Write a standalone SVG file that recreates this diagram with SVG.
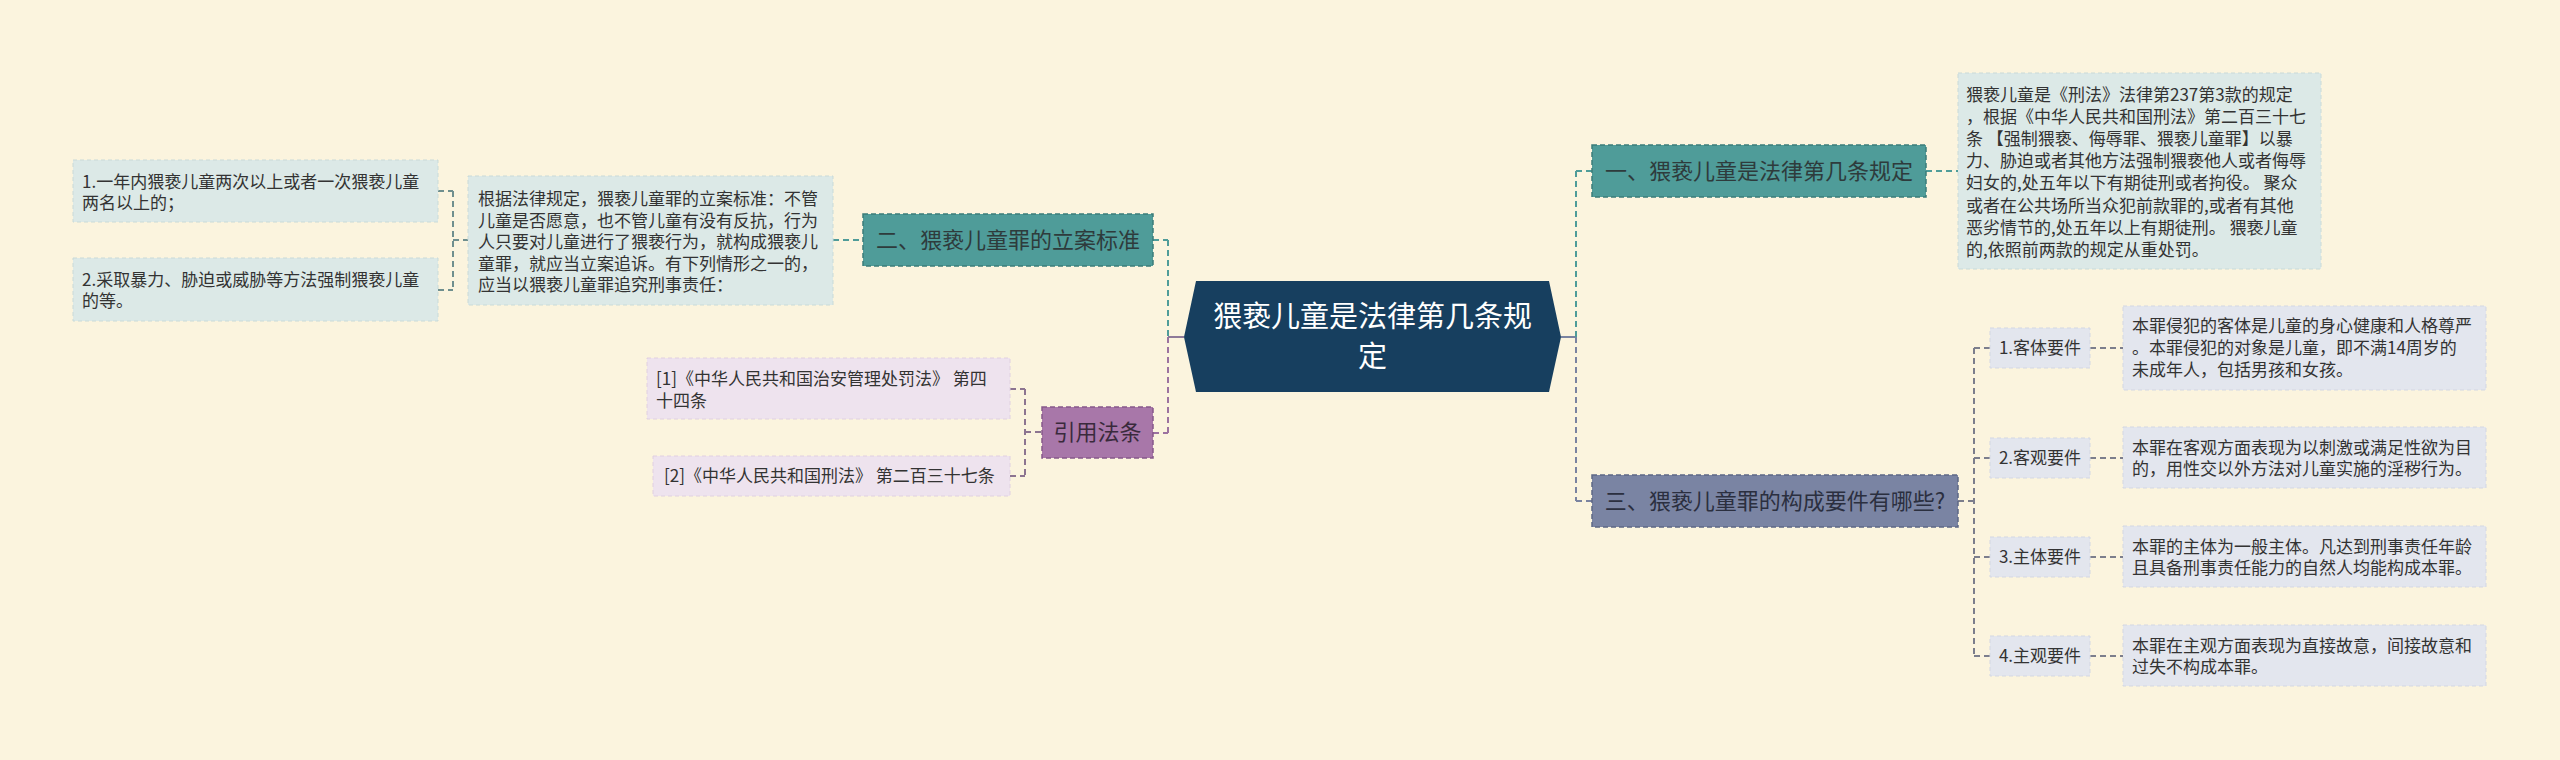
<svg xmlns="http://www.w3.org/2000/svg" width="2560" height="760" viewBox="0 0 2560 760">
<style>
text{font-family:"Noto Sans CJK SC","Noto Sans",sans-serif;fill:#333333;}
.s{font-size:17px;}
.m{font-size:22px;}
.c{text-anchor:middle;}
.leafA{fill:#DCE9E7;stroke:#C9DAD8;stroke-width:1;stroke-dasharray:4 3;}
.leafB{fill:#EEE3EE;stroke:#E0D0E0;stroke-width:1;stroke-dasharray:4 3;}
.leafC{fill:#E3E6EE;stroke:#D3D7E2;stroke-width:1;stroke-dasharray:4 3;}
.teal{fill:#4F9C99;stroke:#3B7C7A;stroke-width:1.5;stroke-dasharray:5 3;}
.purp{fill:#A877A9;stroke:#86588A;stroke-width:1.5;stroke-dasharray:5 3;}
.slate{fill:#7A84A3;stroke:#5E6785;stroke-width:1.5;stroke-dasharray:5 3;}
.dk{fill:#2E3B3C;}
.ln{fill:none;stroke-width:2;stroke-dasharray:6 4;}
.lt{stroke:#4F9C99;}
.lp{stroke:#9C72A0;}
.ls{stroke:#7A83A0;}
.lg{stroke:#6F8F8E;}
.lgp{stroke:#8C7490;}
.lgs{stroke:#7C7E8C;}
</style>
<rect width="2560" height="760" fill="#FBF4DE"/>
<g id="connectors">
  <path class="ln lg" d="M438 191H453M453 191V290M438 290H453M453 240H468"/>
  <path class="ln lt" d="M833 240H863"/>
  <path class="ln lgp" d="M1010 389H1025M1025 389V476M1010 476H1025M1025 432H1042"/>
  <path class="ln lt" d="M1153 240H1168M1168 240V337"/>
  <path class="ln lp" d="M1168 337V433M1153 433H1168"/>
  <path fill="none" stroke="#8E7A99" stroke-width="2" d="M1168 337H1184"/>
  <path fill="none" stroke="#7A83A0" stroke-width="2" d="M1561 337H1576"/>
  <path class="ln lt" d="M1576 337V171M1576 171H1592M1926 171H1958"/>
  <path class="ln ls" d="M1576 337V501M1576 501H1592"/>
  <path class="ln lgs" d="M1958 501H1974M1974 348V656M1974 348H1990M1974 458H1990M1974 557H1990M1974 656H1990M2090 348H2123M2090 458H2123M2090 557H2123M2090 656H2123"/>
</g>
<g id="root">
  <polygon points="1196,281 1549,281 1561,337 1549,392 1196,392 1184,337" fill="#173F5F"/>
  <text x="1372.5" y="327" class="c" style="font-size:29px;fill:#FFFFFF">猥亵儿童是法律第几条规</text>
  <text x="1372.5" y="367" class="c" style="font-size:29px;fill:#FFFFFF">定</text>
</g>
<g id="n2">
  <rect x="863" y="214" width="290" height="52" class="teal"/>
  <text x="1008" y="248" class="m c dk">二、猥亵儿童罪的立案标准</text>
</g>
<g id="n2text">
  <rect x="468" y="176" width="365" height="129" class="leafA"/>
  <text class="s" x="478" y="205">根据法律规定，猥亵儿童罪的立案标准：不管</text>
  <text class="s" x="478" y="227">儿童是否愿意，也不管儿童有没有反抗，行为</text>
  <text class="s" x="478" y="248">人只要对儿童进行了猥亵行为，就构成猥亵儿</text>
  <text class="s" x="478" y="270">童罪，就应当立案追诉。有下列情形之一的，</text>
  <text class="s" x="478" y="291">应当以猥亵儿童罪追究刑事责任：</text>
</g>
<g id="n2a">
  <rect x="73" y="160" width="365" height="62" class="leafA"/>
  <text class="s" x="82" y="188">1.一年内猥亵儿童两次以上或者一次猥亵儿童</text>
  <text class="s" x="82" y="209">两名以上的；</text>
</g>
<g id="n2b">
  <rect x="73" y="258" width="365" height="63" class="leafA"/>
  <text class="s" x="82" y="286">2.采取暴力、胁迫或威胁等方法强制猥亵儿童</text>
  <text class="s" x="82" y="307">的等。</text>
</g>
<g id="ref">
  <rect x="1042" y="407" width="111" height="51" class="purp"/>
  <text x="1097.5" y="440" class="m c" style="fill:#3A2A3C">引用法条</text>
</g>
<g id="ref1">
  <rect x="647" y="358" width="363" height="61" class="leafB"/>
  <text class="s" x="656" y="385">[1]《中华人民共和国治安管理处罚法》 第四</text>
  <text class="s" x="656" y="407">十四条</text>
</g>
<g id="ref2">
  <rect x="653" y="456" width="357" height="40" class="leafB"/>
  <text class="s" x="664" y="482">[2]《中华人民共和国刑法》 第二百三十七条</text>
</g>
<g id="n1">
  <rect x="1592" y="145" width="334" height="52" class="teal"/>
  <text x="1759" y="179" class="m c dk">一、猥亵儿童是法律第几条规定</text>
</g>
<g id="n1text">
  <rect x="1958" y="73" width="363" height="196" class="leafA"/>
  <text class="s" x="1966" y="101">猥亵儿童是《刑法》法律第237第3款的规定</text>
  <text class="s" x="1966" y="123">，根据《中华人民共和国刑法》第二百三十七</text>
  <text class="s" x="1966" y="145">条 【强制猥亵、侮辱罪、猥亵儿童罪】以暴</text>
  <text class="s" x="1966" y="167">力、胁迫或者其他方法强制猥亵他人或者侮辱</text>
  <text class="s" x="1966" y="189">妇女的,处五年以下有期徒刑或者拘役。 聚众</text>
  <text class="s" x="1966" y="212">或者在公共场所当众犯前款罪的,或者有其他</text>
  <text class="s" x="1966" y="234">恶劣情节的,处五年以上有期徒刑。 猥亵儿童</text>
  <text class="s" x="1966" y="256">的,依照前两款的规定从重处罚。</text>
</g>
<g id="n3">
  <rect x="1592" y="475" width="366" height="52" class="slate"/>
  <text x="1775" y="509" class="m c" style="fill:#2B2F3F">三、猥亵儿童罪的构成要件有哪些?</text>
</g>
<g id="n3a">
  <rect x="1990" y="328" width="100" height="40" class="leafC"/>
  <text x="2040" y="354" class="s c">1.客体要件</text>
</g>
<g id="n3atext">
  <rect x="2123" y="306" width="363" height="84" class="leafC"/>
  <text class="s" x="2132" y="332">本罪侵犯的客体是儿童的身心健康和人格尊严</text>
  <text class="s" x="2132" y="354">。本罪侵犯的对象是儿童，即不满14周岁的</text>
  <text class="s" x="2132" y="376">未成年人，包括男孩和女孩。</text>
</g>
<g id="n3b">
  <rect x="1990" y="438" width="100" height="40" class="leafC"/>
  <text x="2040" y="464" class="s c">2.客观要件</text>
</g>
<g id="n3btext">
  <rect x="2123" y="427" width="363" height="61" class="leafC"/>
  <text class="s" x="2132" y="454">本罪在客观方面表现为以刺激或满足性欲为目</text>
  <text class="s" x="2132" y="475">的，用性交以外方法对儿童实施的淫秽行为。</text>
</g>
<g id="n3c">
  <rect x="1990" y="537" width="100" height="40" class="leafC"/>
  <text x="2040" y="563" class="s c">3.主体要件</text>
</g>
<g id="n3ctext">
  <rect x="2123" y="526" width="363" height="61" class="leafC"/>
  <text class="s" x="2132" y="553">本罪的主体为一般主体。凡达到刑事责任年龄</text>
  <text class="s" x="2132" y="574">且具备刑事责任能力的自然人均能构成本罪。</text>
</g>
<g id="n3d">
  <rect x="1990" y="636" width="100" height="40" class="leafC"/>
  <text x="2040" y="662" class="s c">4.主观要件</text>
</g>
<g id="n3dtext">
  <rect x="2123" y="625" width="363" height="61" class="leafC"/>
  <text class="s" x="2132" y="652">本罪在主观方面表现为直接故意，间接故意和</text>
  <text class="s" x="2132" y="673">过失不构成本罪。</text>
</g>
</svg>
